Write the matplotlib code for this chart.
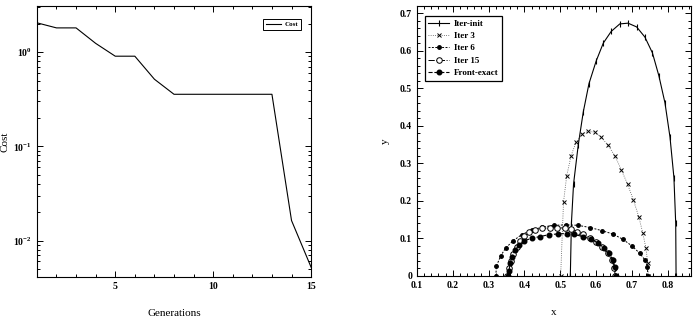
import matplotlib
matplotlib.use("Agg")
import matplotlib.pyplot as plt
from matplotlib.ticker import MultipleLocator, FixedLocator, FuncFormatter, LogLocator, NullFormatter

plt.rcParams["font.family"] = "Liberation Serif"
plt.rcParams["font.weight"] = "bold"
plt.rcParams["mathtext.fontset"] = "custom"
plt.rcParams["mathtext.rm"] = "Liberation Serif:bold"
plt.rcParams["mathtext.it"] = "Liberation Serif:bold"
plt.rcParams["mathtext.bf"] = "Liberation Serif:bold"

# ── left panel: cost per generation ──────────────────────────────────────────
generations = [1, 2, 3, 4, 5, 6, 7, 8, 9, 10, 11, 12, 13, 14, 15]
cost = [2.05, 1.81, 1.81, 1.24, 0.906, 0.906, 0.516, 0.357, 0.357, 0.357,
        0.357, 0.357, 0.357, 0.0163, 0.0052]

# ── right panel: front shapes ────────────────────────────────────────────────
init_x = [0.528, 0.531, 0.537, 0.550, 0.564, 0.580, 0.600, 0.620, 0.642, 0.666,
          0.689, 0.713, 0.736, 0.757, 0.775, 0.792, 0.806, 0.817, 0.822, 0.823]
init_y = [0.0, 0.140, 0.245, 0.348, 0.436, 0.512, 0.572, 0.620, 0.651, 0.671,
          0.673, 0.663, 0.636, 0.594, 0.533, 0.461, 0.370, 0.262, 0.140, 0.0]

iter3_x = [0.501, 0.509, 0.518, 0.530, 0.544, 0.560, 0.577, 0.596, 0.614, 0.633,
           0.653, 0.670, 0.688, 0.704, 0.719, 0.730, 0.739, 0.744, 0.746]
iter3_y = [0.0, 0.197, 0.267, 0.320, 0.356, 0.377, 0.385, 0.383, 0.370, 0.348,
           0.319, 0.283, 0.244, 0.202, 0.158, 0.115, 0.074, 0.034, 0.0]

iter6_x = [0.320, 0.322, 0.334, 0.348, 0.369, 0.392, 0.420, 0.450, 0.482, 0.516,
           0.549, 0.583, 0.615, 0.646, 0.674, 0.700, 0.722, 0.736, 0.743, 0.744]
iter6_y = [0.0, 0.027, 0.054, 0.075, 0.094, 0.110, 0.122, 0.130, 0.135, 0.136,
           0.135, 0.129, 0.121, 0.112, 0.098, 0.080, 0.060, 0.043, 0.025, 0.0]

iter15_x = [0.352, 0.356, 0.362, 0.369, 0.378, 0.388, 0.400, 0.414, 0.430, 0.450,
            0.471, 0.492, 0.513, 0.530, 0.547, 0.564, 0.582, 0.600, 0.617, 0.632,
            0.644, 0.651, 0.653]
iter15_y = [0.0, 0.020, 0.040, 0.058, 0.078, 0.094, 0.107, 0.117, 0.123, 0.127,
            0.128, 0.129, 0.127, 0.124, 0.118, 0.111, 0.101, 0.090, 0.076, 0.060,
            0.042, 0.022, 0.0]

exact_x = [0.355, 0.357, 0.360, 0.365, 0.373, 0.385, 0.399, 0.420, 0.443, 0.469,
           0.494, 0.518, 0.538, 0.562, 0.587, 0.606, 0.623, 0.637, 0.646, 0.653,
           0.655]
exact_y = [0.0, 0.014, 0.034, 0.051, 0.068, 0.082, 0.094, 0.100, 0.105, 0.110,
           0.112, 0.113, 0.111, 0.105, 0.098, 0.087, 0.074, 0.060, 0.043, 0.023,
           0.0]


def style_axes(ax):
    ax.tick_params(which="both", direction="in", top=True, right=True,
                   labelsize=7, width=0.7)
    ax.tick_params(which="major", length=4)
    ax.tick_params(which="minor", length=2)
    for sp in ax.spines.values():
        sp.set_linewidth(0.8)


fig = plt.figure(figsize=(6.96, 3.27), dpi=100)

# left: cost history
ax1 = fig.add_axes([0.053, 0.153, 0.394, 0.829])
ax1.plot(generations, cost, color="black", lw=0.8, label="Cost")
ax1.set_yscale("log")
ax1.set_xlim(1, 15)
ax1.set_ylim(0.0041, 3.1)
ax1.xaxis.set_major_locator(FixedLocator([5, 10, 15]))
ax1.xaxis.set_minor_locator(MultipleLocator(1))
ax1.yaxis.set_major_locator(LogLocator(base=10))
ax1.yaxis.set_minor_locator(LogLocator(base=10, subs=range(2, 10)))
ax1.yaxis.set_minor_formatter(NullFormatter())
style_axes(ax1)
ax1.set_xlabel("Generations", fontsize=8, labelpad=13)
ax1.set_ylabel("Cost", fontsize=8)
ax1.yaxis.set_label_coords(-0.100, 0.5)
leg1 = ax1.legend(loc="upper right", bbox_to_anchor=(0.975, 0.965), fontsize=5,
                  fancybox=False, edgecolor="black", framealpha=1,
                  handlelength=2.2, handletextpad=0.5, borderpad=0.35)
leg1.get_frame().set_linewidth(0.7)

# right: fronts
ax2 = fig.add_axes([0.599, 0.156, 0.394, 0.826])
ax2.plot(init_x, init_y, color="black", lw=0.8, ls="-", marker="|",
         ms=4, mew=0.8, label="Iter-init")
ax2.plot(iter3_x, iter3_y, color="#555555", lw=0.6, ls=":", marker="x",
         ms=3, mew=0.7, mec="black", label="Iter 3")
ax2.plot(iter6_x, iter6_y, color="black", lw=0.7, ls=(0, (2, 1.5)), marker="o",
         ms=2.5, mfc="black", mec="black", label="Iter 6")
ax2.plot(iter15_x, iter15_y, color="black", lw=0.7, ls="-.", marker="o",
         ms=4, mfc="white", mec="black", mew=0.7, label="Iter 15")
ax2.plot(exact_x, exact_y, color="black", lw=0.8, ls="--", marker="o",
         ms=3.3, mfc="black", mec="black", label="Front-exact")
ax2.set_xlim(0.1, 0.865)
ax2.set_ylim(0, 0.719)
ax2.xaxis.set_major_locator(MultipleLocator(0.1))
ax2.xaxis.set_minor_locator(MultipleLocator(0.02))
ax2.yaxis.set_major_locator(MultipleLocator(0.1))
ax2.yaxis.set_minor_locator(MultipleLocator(0.02))
ax2.yaxis.set_major_formatter(FuncFormatter(lambda v, p: "0" if abs(v) < 1e-9 else f"{v:.1f}"))
ax2.xaxis.set_major_formatter(FuncFormatter(lambda v, p: f"{v:.1f}"))
style_axes(ax2)
ax2.set_xlabel("x", fontsize=8, labelpad=13)
ax2.set_ylabel("y", fontsize=8)
ax2.yaxis.set_label_coords(-0.100, 0.5)
leg2 = ax2.legend(loc="upper left", bbox_to_anchor=(0.012, 0.98), fontsize=6.5,
                  fancybox=False, edgecolor="black", framealpha=1,
                  handlelength=2.3, handletextpad=0.5, labelspacing=0.45,
                  borderpad=0.4)
leg2.get_frame().set_linewidth(0.9)

fig.savefig("out.png", dpi=100)
